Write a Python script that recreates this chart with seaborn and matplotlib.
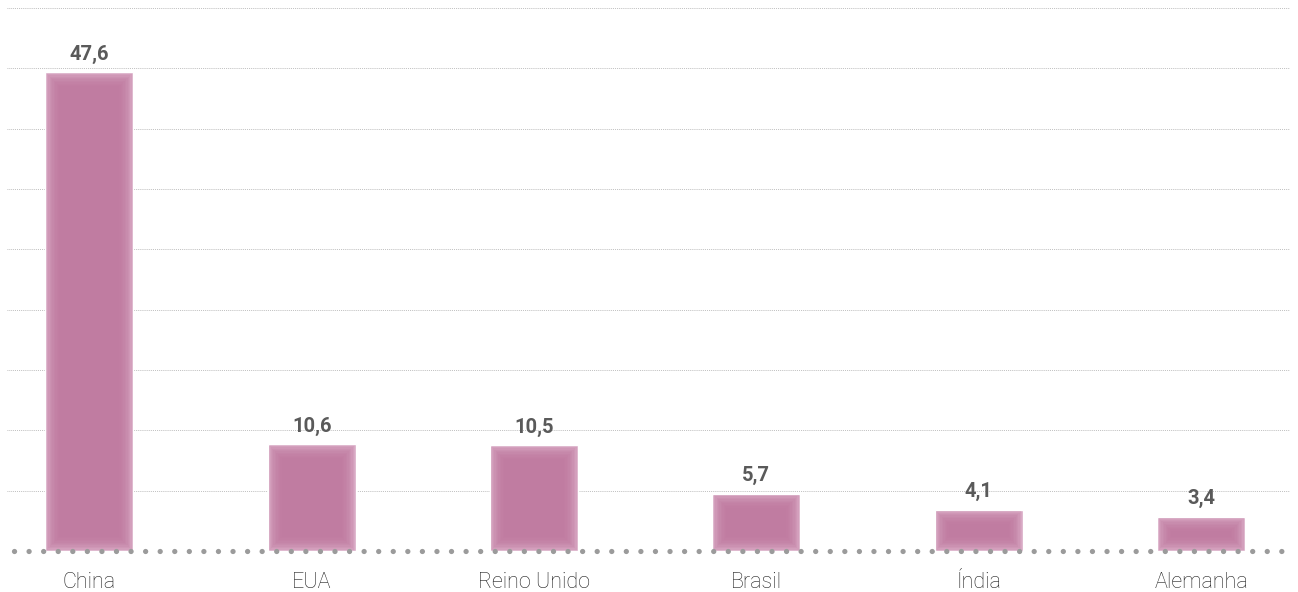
import matplotlib
matplotlib.use("Agg")
import matplotlib.pyplot as plt
import seaborn as sns
import pandas as pd
from matplotlib.patches import Rectangle

paises = ["China", "EUA", "Reino Unido", "Brasil", "Índia", "Alemanha"]
valores = [47.6, 10.6, 10.5, 5.7, 4.1, 3.4]
rotulos = ["47,6", "10,6", "10,5", "5,7", "4,1", "3,4"]

sns.set_theme(style="white")
plt.rcParams["font.family"] = ["Roboto", "DejaVu Sans"]

df = pd.DataFrame({"pais": paises, "valor": valores})

fig = plt.figure(figsize=(12.98, 5.92), dpi=100)
ax = fig.add_axes([7 / 1298, 41 / 592, 1283 / 1298, 543 / 592])

cor_borda = "#d8a9c4"
cor_miolo = "#bf789e"

sns.barplot(data=df, x="pais", y="valor", color=cor_borda, saturation=1,
            width=0.395, ax=ax, zorder=3)

ax.set_xlim(-0.37, 5.40)
ax.set_ylim(0, 54)

# soft inner glow on each bar: stacked translucent insets
fig.canvas.draw()
inv = ax.transData.inverted()
px_x = inv.transform((1, 0))[0] - inv.transform((0, 0))[0]
px_y = inv.transform((0, 1))[1] - inv.transform((0, 0))[1]
for p in list(ax.patches):
    x0, w, h = p.get_x(), p.get_width(), p.get_height()
    steps = 10
    for i in range(1, steps + 1):
        dx = i * 1.4 * px_x
        dy = i * 1.4 * px_y
        ww = w - 2 * dx
        hh = h - 2 * dy
        if ww <= 0 or hh <= 0:
            continue
        ax.add_patch(Rectangle((x0 + dx, dy), ww, hh, facecolor=cor_miolo,
                               edgecolor="none", alpha=0.19, zorder=3))

# value labels
for i, (v, t) in enumerate(zip(valores, rotulos)):
    ax.annotate(t, (i, v), xytext=(0, 6), textcoords="offset points",
                ha="center", va="bottom", fontsize=14.5, fontweight="bold",
                color="#5a5a5a", zorder=5)

# dotted horizontal grid
for yv in range(6, 55, 6):
    ax.axhline(yv, color="#ababab", lw=0.6, ls=(0, (1, 1.3)), zorder=1)

# dotted baseline
ax.plot([-0.34, 5.38], [0, 0], color="#9b9b9b", lw=3.8,
        ls=(0, (0.01, 2.75)), dash_capstyle="round",
        clip_on=False, zorder=4)

for s in ax.spines.values():
    s.set_visible(False)
ax.set_yticks([])
ax.set_xlabel("")
ax.set_ylabel("")
ax.tick_params(axis="x", length=0, pad=15, labelcolor="#1e1e1e")
for lab in ax.get_xticklabels():
    lab.set_fontsize(15.5)
    lab.set_fontweight("light")
ax.grid(False)

fig.savefig("out.png", dpi=100)
